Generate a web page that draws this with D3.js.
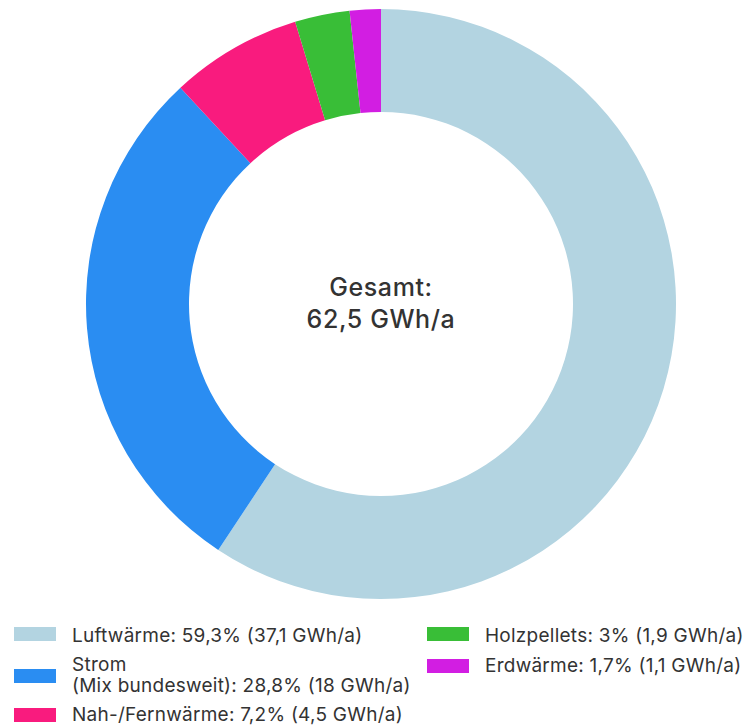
<!DOCTYPE html>
<html>
<head>
<meta charset="utf-8">
<script src="https://cdn.jsdelivr.net/npm/d3@7"></script>
<style>
  html, body { margin: 0; padding: 0; background: #fff; }
  svg { display: block; font-family: Inter, "Noto Sans", sans-serif; }
</style>
</head>
<body>
<svg id="chart" width="746" height="726"></svg>
<script>
// Anteile der Wärmequellen (Prozent) und Energiemengen (GWh/a)
const categories = ["Luftwärme", "Strom", "Nah-/Fernwärme", "Holzpellets", "Erdwärme"];
const shares = [59.3, 28.8, 7.2, 3, 1.7];
const energy = ["37,1", "18", "4,5", "1,9", "1,1"];
const shareLabels = ["59,3", "28,8", "7,2", "3", "1,7"];
const colors = ["#b3d4e1", "#2a8df2", "#f91b7e", "#39be37", "#d21ee2"];
const totalLabel = ["Gesamt:", "62,5 GWh/a"];

const svg = d3.select("#chart");
const cx = 381, cy = 304, outerR = 295, innerR = 192;

const pie = d3.pie().sort(null).value(d => d.value);
const arc = d3.arc().innerRadius(innerR).outerRadius(outerR);
const data = categories.map((c, i) => ({ name: c, value: shares[i], color: colors[i] }));

const g = svg.append("g").attr("transform", `translate(${cx},${cy})`);
g.selectAll("path").data(pie(data)).join("path")
  .attr("d", arc)
  .attr("fill", d => d.data.color);

g.selectAll("text.total").data(totalLabel).join("text")
  .attr("class", "total")
  .attr("text-anchor", "middle")
  .attr("dominant-baseline", "central")
  .attr("y", (d, i) => i === 0 ? -17 : 15)
  .attr("font-size", 25)
  .attr("font-weight", 500)
  .attr("letter-spacing", 0.6)
  .attr("fill", "#333")
  .text(d => d);

// Legende in zwei Spalten
const legendItems = [
  { i: 0, x: 14, y: 627, lines: [`${categories[0]}: ${shareLabels[0]}% (${energy[0]} GWh/a)`], ty: [635] },
  { i: 1, x: 14, y: 669, lines: ["Strom", `(Mix bundesweit): ${shareLabels[1]}% (${energy[1]} GWh/a)`], ty: [664, 685] },
  { i: 2, x: 14, y: 708, lines: [`${categories[2]}: ${shareLabels[2]}% (${energy[2]} GWh/a)`], ty: [714] },
  { i: 3, x: 427, y: 627, lines: [`${categories[3]}: ${shareLabels[3]}% (${energy[3]} GWh/a)`], ty: [635] },
  { i: 4, x: 427, y: 659, lines: [`${categories[4]}: ${shareLabels[4]}% (${energy[4]} GWh/a)`], ty: [665] }
];

const lg = svg.append("g");
legendItems.forEach(item => {
  lg.append("rect")
    .attr("x", item.x).attr("y", item.y)
    .attr("width", 42).attr("height", 14)
    .attr("fill", colors[item.i]);
  item.lines.forEach((t, k) => {
    lg.append("text")
      .attr("x", item.x + 58)
      .attr("y", item.ty[k])
      .attr("dominant-baseline", "central")
      .attr("font-size", 19)
      .attr("letter-spacing", 0.25)
      .attr("fill", "#333")
      .text(t);
  });
});
</script>
</body>
</html>
